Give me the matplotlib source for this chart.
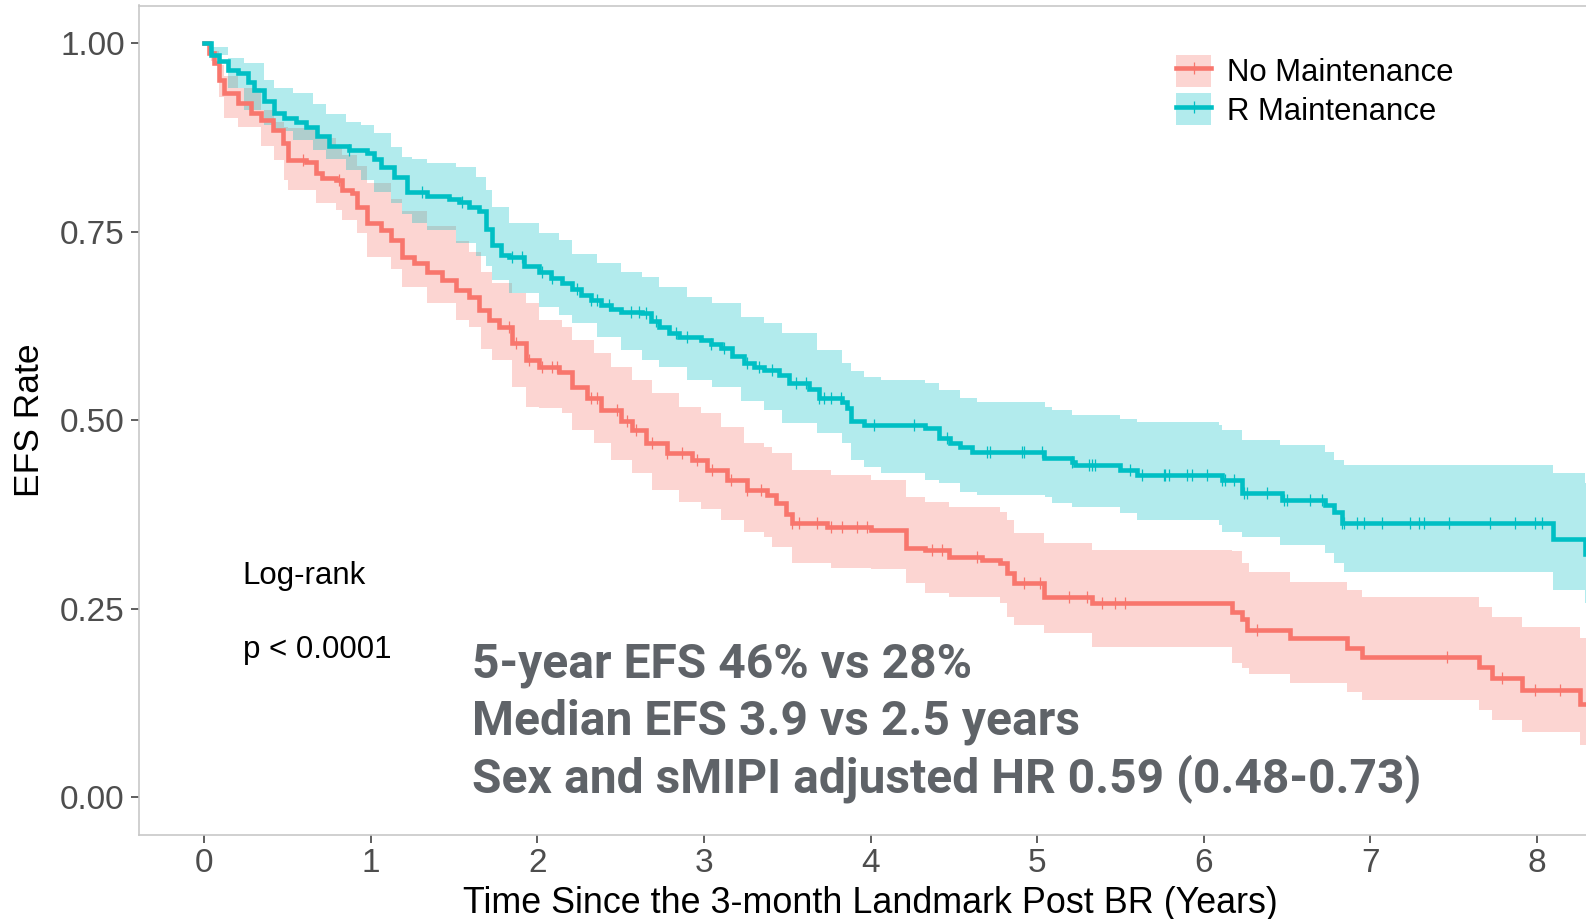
import numpy as np
import matplotlib
matplotlib.use("Agg")
import matplotlib.pyplot as plt
from matplotlib.patches import Patch
from matplotlib.lines import Line2D

plt.rcParams['font.family'] = ['Liberation Sans', 'DejaVu Sans']

# ---------------------------------------------------------------- data
groups = ["No Maintenance", "R Maintenance"]
colors = ["#F8766D", "#00BFC4"]
follow_up_end = 8.5  # years, last follow-up shown

# No Maintenance: Kaplan-Meier steps
no_maint_time = [0, 0.03, 0.06, 0.09, 0.12, 0.20, 0.28, 0.34, 0.41, 0.47,
                 0.50, 0.61, 0.67, 0.71, 0.79, 0.83, 0.89, 0.92, 0.98, 1.06,
                 1.12, 1.19, 1.26, 1.34, 1.43, 1.51, 1.59, 1.65, 1.71, 1.77,
                 1.85, 1.93, 2.01, 2.13, 2.21, 2.30, 2.38, 2.50, 2.57, 2.65,
                 2.78, 2.93, 3.02, 3.14, 3.26, 3.38, 3.43, 3.49, 3.53, 3.74,
                 4.00, 4.21, 4.33, 4.47, 4.67, 4.78, 4.82, 4.86, 5.04, 5.33,
                 6.17, 6.23, 6.26, 6.52, 6.86, 6.95, 7.65, 7.73, 7.91, 8.26]
no_maint_surv = [1.0, 0.987, 0.974, 0.951, 0.934, 0.921, 0.907, 0.898, 0.885, 0.868,
                 0.845, 0.843, 0.828, 0.821, 0.818, 0.805, 0.801, 0.783, 0.762, 0.752,
                 0.739, 0.716, 0.708, 0.696, 0.686, 0.673, 0.664, 0.646, 0.633, 0.623,
                 0.603, 0.580, 0.571, 0.564, 0.544, 0.530, 0.514, 0.499, 0.487, 0.470,
                 0.456, 0.447, 0.434, 0.421, 0.408, 0.401, 0.390, 0.375, 0.364, 0.358,
                 0.354, 0.331, 0.328, 0.319, 0.315, 0.311, 0.298, 0.284, 0.265, 0.257,
                 0.245, 0.236, 0.222, 0.211, 0.198, 0.186, 0.173, 0.158, 0.142, 0.123]
no_maint_ci_time = [0, 0.04, 0.09, 0.12, 0.20, 0.34, 0.42, 0.48, 0.50, 0.67,
                    0.79, 0.83, 0.92, 0.98, 1.12, 1.19, 1.34, 1.51, 1.59, 1.66,
                    1.73, 1.85, 1.93, 2.01, 2.15, 2.21, 2.34, 2.44, 2.57, 2.69,
                    2.85, 2.98, 3.10, 3.24, 3.36, 3.41, 3.53, 3.76, 4.00, 4.21,
                    4.33, 4.47, 4.78, 4.82, 4.86, 5.04, 5.33, 6.17, 6.23, 6.27,
                    6.52, 6.86, 6.95, 7.65, 7.73, 7.91, 8.26]
no_maint_ci_upper = [1.0, 0.990, 0.971, 0.956, 0.941, 0.911, 0.896, 0.889, 0.887, 0.874,
                     0.862, 0.852, 0.837, 0.814, 0.793, 0.778, 0.758, 0.738, 0.723, 0.696,
                     0.682, 0.669, 0.655, 0.633, 0.623, 0.607, 0.589, 0.571, 0.553, 0.536,
                     0.518, 0.510, 0.491, 0.470, 0.464, 0.456, 0.434, 0.427, 0.421, 0.398,
                     0.392, 0.385, 0.378, 0.368, 0.350, 0.337, 0.328, 0.326, 0.311, 0.299,
                     0.285, 0.275, 0.265, 0.252, 0.239, 0.226, 0.211]
no_maint_ci_lower = [1.0, 0.976, 0.929, 0.901, 0.889, 0.863, 0.845, 0.818, 0.805, 0.788,
                     0.779, 0.766, 0.748, 0.716, 0.700, 0.677, 0.655, 0.633, 0.623, 0.595,
                     0.580, 0.544, 0.518, 0.516, 0.510, 0.487, 0.470, 0.447, 0.430, 0.408,
                     0.392, 0.382, 0.367, 0.352, 0.345, 0.332, 0.311, 0.304, 0.303, 0.284,
                     0.271, 0.265, 0.258, 0.239, 0.229, 0.218, 0.199, 0.178, 0.171, 0.164,
                     0.151, 0.140, 0.129, 0.116, 0.102, 0.086, 0.069]
no_maint_censor = [0.59, 0.81, 1.83, 1.87, 1.95, 2.03, 2.09, 2.12, 2.32, 2.36,
                   2.48, 2.54, 2.59, 2.69, 2.78, 2.87, 2.96, 3.05, 3.16, 3.26,
                   3.34, 3.53, 3.57, 3.68, 3.76, 3.83, 3.92, 3.98, 4.37, 4.43,
                   4.64, 4.92, 5.02, 5.19, 5.30, 5.39, 5.47, 5.53, 6.32, 7.46,
                   7.79, 7.99, 8.14]

# R Maintenance: Kaplan-Meier steps
r_maint_time = [0, 0.04, 0.09, 0.14, 0.20, 0.26, 0.30, 0.36, 0.42, 0.48,
                0.55, 0.61, 0.68, 0.75, 0.87, 0.98, 1.02, 1.06, 1.14, 1.22,
                1.34, 1.47, 1.53, 1.59, 1.65, 1.69, 1.73, 1.78, 1.83, 1.92,
                2.01, 2.08, 2.15, 2.21, 2.26, 2.32, 2.38, 2.44, 2.50, 2.63,
                2.68, 2.73, 2.79, 2.85, 2.98, 3.04, 3.10, 3.17, 3.24, 3.30,
                3.36, 3.45, 3.51, 3.63, 3.69, 3.83, 3.86, 3.88, 3.96, 4.33,
                4.41, 4.48, 4.54, 4.61, 5.04, 5.21, 5.23, 5.50, 5.60, 6.11,
                6.23, 6.47, 6.73, 6.78, 6.83, 8.10, 8.29]
r_maint_surv = [1.0, 0.985, 0.976, 0.965, 0.961, 0.949, 0.938, 0.923, 0.907, 0.901,
                0.895, 0.889, 0.877, 0.863, 0.859, 0.855, 0.847, 0.836, 0.822, 0.802,
                0.797, 0.793, 0.789, 0.783, 0.777, 0.753, 0.732, 0.719, 0.716, 0.704,
                0.696, 0.689, 0.682, 0.674, 0.666, 0.659, 0.653, 0.648, 0.643, 0.642,
                0.632, 0.623, 0.616, 0.611, 0.607, 0.601, 0.596, 0.585, 0.576, 0.571,
                0.567, 0.560, 0.549, 0.542, 0.529, 0.524, 0.516, 0.499, 0.494, 0.490,
                0.476, 0.470, 0.464, 0.458, 0.450, 0.444, 0.440, 0.434, 0.427, 0.421,
                0.404, 0.394, 0.388, 0.378, 0.364, 0.343, 0.322]
r_maint_ci_time = [0, 0.04, 0.14, 0.24, 0.36, 0.42, 0.53, 0.65, 0.73, 0.85,
                   0.94, 1.02, 1.12, 1.19, 1.25, 1.34, 1.51, 1.63, 1.69, 1.73,
                   1.83, 2.01, 2.13, 2.21, 2.36, 2.50, 2.63, 2.73, 2.90, 3.05,
                   3.22, 3.36, 3.47, 3.68, 3.83, 3.88, 3.96, 4.06, 4.33, 4.41,
                   4.54, 4.64, 5.05, 5.09, 5.21, 5.50, 5.60, 6.09, 6.11, 6.23,
                   6.46, 6.73, 6.78, 6.84, 8.10, 8.29]
r_maint_ci_upper = [1.0, 0.995, 0.981, 0.974, 0.951, 0.941, 0.934, 0.919, 0.906, 0.896,
                    0.892, 0.881, 0.862, 0.849, 0.847, 0.841, 0.836, 0.822, 0.805, 0.783,
                    0.762, 0.748, 0.739, 0.721, 0.708, 0.696, 0.690, 0.677, 0.664, 0.655,
                    0.637, 0.629, 0.615, 0.593, 0.576, 0.565, 0.557, 0.553, 0.549, 0.540,
                    0.530, 0.524, 0.518, 0.514, 0.507, 0.501, 0.497, 0.494, 0.487, 0.474,
                    0.467, 0.458, 0.447, 0.440, 0.430, 0.417]
r_maint_ci_lower = [1.0, 0.985, 0.941, 0.911, 0.892, 0.884, 0.872, 0.859, 0.847, 0.832,
                    0.818, 0.802, 0.788, 0.773, 0.762, 0.752, 0.735, 0.718, 0.704, 0.686,
                    0.669, 0.650, 0.639, 0.629, 0.611, 0.593, 0.580, 0.571, 0.553, 0.544,
                    0.526, 0.514, 0.496, 0.483, 0.470, 0.447, 0.438, 0.430, 0.421, 0.417,
                    0.405, 0.401, 0.398, 0.390, 0.385, 0.377, 0.368, 0.361, 0.352, 0.345,
                    0.334, 0.324, 0.311, 0.299, 0.275, 0.258]
r_maint_censor = [0.87, 1.31, 1.55, 1.85, 1.91, 2.03, 2.09, 2.24, 2.32, 2.36,
                  2.43, 2.56, 2.61, 2.65, 2.71, 2.83, 2.90, 3.04, 3.12, 3.26,
                  3.33, 3.41, 3.55, 3.61, 3.69, 3.72, 3.76, 3.82, 4.02, 4.26,
                  4.46, 4.70, 4.72, 4.91, 4.92, 5.03, 5.21, 5.31, 5.33, 5.35,
                  5.56, 5.63, 5.76, 5.77, 5.79, 5.90, 5.93, 6.02, 6.11, 6.13,
                  6.18, 6.24, 6.26, 6.38, 6.48, 6.50, 6.64, 6.71, 6.83, 6.84,
                  6.92, 6.96, 7.07, 7.24, 7.29, 7.32, 7.47, 7.72, 7.87, 7.99,
                  8.03]

x_ticks = [0, 1, 2, 3, 4, 5, 6, 7, 8]
y_ticks = [0.0, 0.25, 0.50, 0.75, 1.0]
y_tick_labels = ["0.00", "0.25", "0.50", "0.75", "1.00"]

stats_lines = ["5-year EFS 46% vs 28%",
               "Median EFS 3.9 vs 2.5 years",
               "Sex and sMIPI adjusted HR 0.59 (0.48-0.73)"]

# ---------------------------------------------------------------- figure
W, H = 1586, 919
fig = plt.figure(figsize=(W / 100, H / 100), dpi=100)
ax = fig.add_axes([138.6 / W, 1 - 834.9 / H, 1481.5 / W, 829.4 / H])
ax.set_xlim(-0.394, 8.5)
ax.set_ylim(-0.05, 1.05)


def extend_to_end(t, v):
    t = np.append(np.asarray(t, float), follow_up_end)
    v = np.asarray(v, float)
    return t, np.append(v, v[-1])


series = [
    (no_maint_time, no_maint_surv, no_maint_ci_time, no_maint_ci_upper,
     no_maint_ci_lower, no_maint_censor),
    (r_maint_time, r_maint_surv, r_maint_ci_time, r_maint_ci_upper,
     r_maint_ci_lower, r_maint_censor),
]

# confidence ribbons
for (t, s, ct, cu, cl, cens), col in zip(series, colors):
    ctx, cux = extend_to_end(ct, cu)
    _, clx = extend_to_end(ct, cl)
    ax.fill_between(ctx, clx, cux, step="post", facecolor=col, alpha=0.3,
                    linewidth=0, edgecolor="none")

# survival steps and censor ticks
for (t, s, ct, cu, cl, cens), col in zip(series, colors):
    tx, sx = extend_to_end(t, s)
    ax.step(tx, sx, where="post", color=col, linewidth=3.3, solid_joinstyle="miter")
    t_arr = np.asarray(t, float)
    s_arr = np.asarray(s, float)
    idx = np.searchsorted(t_arr, np.asarray(cens), side="right") - 1
    ax.plot(cens, s_arr[idx], linestyle="none", marker="|", markersize=9,
            markeredgewidth=0.9, color=col)

# axes styling
for side in ["top", "bottom", "left", "right"]:
    ax.spines[side].set_color("#C8C8C8")
    ax.spines[side].set_linewidth(1.2)
ax.set_xticks(x_ticks)
ax.set_xticklabels([str(v) for v in x_ticks])
ax.set_yticks(y_ticks)
ax.set_yticklabels(y_tick_labels)
ax.tick_params(axis="both", which="major", length=6, width=1.1, color="#333333",
               labelcolor="#4D4D4D", labelsize=24)
ax.tick_params(axis="x", pad=3.5)
ax.tick_params(axis="y", pad=4)
ax.set_xlabel("Time Since the 3-month Landmark Post BR (Years)", fontsize=25.8,
              color="black", labelpad=5)
ax.xaxis.label.set_x(0.4937)
ax.set_ylabel("EFS Rate", fontsize=25.5, color="black", labelpad=10)

# log-rank annotation
ax.text(0.232, 0.283, "Log-rank", fontsize=22.5, color="black")
ax.text(0.232, 0.1846, "p < 0.0001", fontsize=22.5, color="black")

# summary statistics
for line, yb in zip(stats_lines, [0.1585, 0.0825, 0.0069]):
    ax.text(1.607, yb, line, fontsize=34.6, fontweight="bold",
            family=["Roboto", "DejaVu Sans"], color="#5F6368", va="baseline")

# legend
handles = [(Patch(facecolor=c, alpha=0.3, edgecolor="none"),
            Line2D([], [], color=c, linewidth=3.3, marker="|", markersize=9,
                   markeredgewidth=0.9))
           for c in colors]
leg = fig.legend(handles, groups, loc="upper left",
                 bbox_to_anchor=(1176 / W, 1 - 55 / H), bbox_transform=fig.transFigure,
                 frameon=False, fontsize=22.4, borderpad=0, borderaxespad=0,
                 handlelength=1.13, handleheight=1.2, handletextpad=0.5,
                 labelspacing=0.16)

fig.savefig("out.png", dpi=100)
